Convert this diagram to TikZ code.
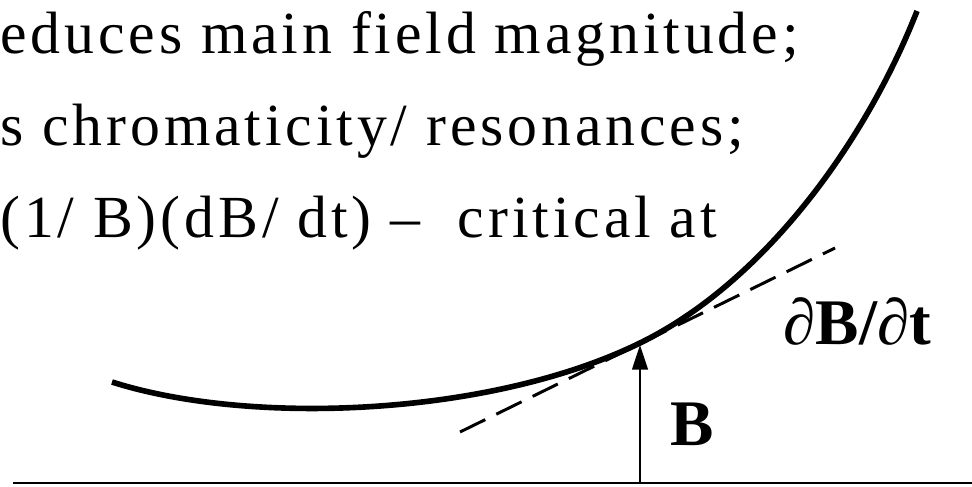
\documentclass[tikz,border=0pt]{standalone}
\usepackage{fontspec}
\setmainfont{Liberation Serif}
\newfontfamily\slidefont[LetterSpace=6.5]{Liberation Serif}
\usetikzlibrary{arrows.meta}

\begin{document}
\begin{tikzpicture}[
    line text/.style={anchor=base west, inner sep=0pt,
      font=\slidefont\fontsize{34}{40}\selectfont},
    label text/.style={inner sep=0pt, font=\fontsize{37}{44}\selectfont\bfseries}]
  \useasboundingbox (0,0) rectangle (19.44,9.72);

  % ── Text lines, cut at the left edge ──────────────────────────────
  \node[line text] (L1) at (0,8.66) {educes main field magnitude;};
  \node[line text] (L2) at (0,6.82) {s chromaticity/ resonances;};
  \node[line text] (L3) at (0,4.98) {(1/ B)(dB/ dt) –\ \ critical at};

  % ── Field curve, touching its tangent at T ────────────────────────
  \coordinate (C0) at (2.24,2.08);
  \coordinate (T)  at (12.80,2.86);
  \coordinate (C9) at (18.34,9.50);
  \draw[line width=3.2pt]
    (C0) .. controls (5.0,1.20) and (9.8,1.39) .. (T)
         .. controls (15.30,4.085) and (17.32,6.90) .. (C9);
  \coordinate (P1) at (9.20,1.08);
  \coordinate (P2) at (16.70,4.76);
  \draw[dash pattern=on 16pt off 7pt, line width=1.7pt] (P1) -- (P2);

  % ── Axis and field arrow ──────────────────────────────────────────
  \coordinate (O1) at (0.26,0.06);
  \coordinate (O2) at (19.44,0.06);
  \coordinate (F)  at (12.80,0.06);
  \coordinate (A)  at (12.80,2.82);
  \draw[line width=1.1pt] (O1) -- (O2);
  \draw[line width=0.9pt, -{Triangle[length=14pt,width=9pt]}] (F) -- (A);

  \node[label text] (Blab) at (13.84,1.24) {B};
  \node[label text] (dBdt) at (17.15,3.30) {{\mdseries ∂}B/{\mdseries ∂}t};
\end{tikzpicture}
\end{document}
